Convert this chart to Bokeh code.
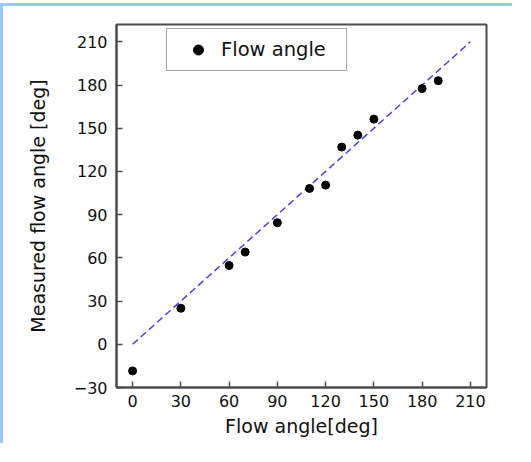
from bokeh.plotting import figure
from bokeh.models import FixedTicker, Legend, LegendItem, Range1d
from bokeh.embed import file_html
from bokeh.resources import INLINE

# data
flow_angle = [0, 30, 60, 70, 90, 110, 120, 130, 140, 150, 180, 190]
measured = [-18.5, 25, 54.7, 64, 84.4, 108.2, 110.5, 136.9, 145.2, 156.3, 177.5, 183]
ref_x = [0, 210]
ref_y = [0, 210]
x_ticks = [0, 30, 60, 90, 120, 150, 180, 210]
y_ticks = [-30, 0, 30, 60, 90, 120, 150, 180, 210]

FONT = "DejaVu Sans"
FRAME = "#4d4d4d"

p = figure(width=512, height=440, output_backend="svg", toolbar_location=None,
           x_range=Range1d(-10, 220), y_range=Range1d(-30, 222),
           min_border_left=113, min_border_right=29, min_border_top=18, min_border_bottom=59,
           background_fill_color="white", border_fill_color="white")
p.styles = {"border-top": "3px solid #9cc9f7", "border-left": "3px solid #9cc9f7",
            "margin-top": "3px"}

p.xgrid.visible = False
p.ygrid.visible = False
p.outline_line_color = FRAME
p.outline_line_width = 2

p.line(ref_x, ref_y, line_color="#4545e0", line_width=1.5, line_dash="7 4")
r = p.scatter(flow_angle, measured, size=8, color="black")

for ax in (p.xaxis[0], p.yaxis[0]):
    ax.axis_line_color = FRAME
    ax.axis_line_width = 2
    ax.major_tick_line_color = FRAME
    ax.major_tick_line_width = 1.5
    ax.major_tick_in = 6
    ax.major_tick_out = 0
    ax.minor_tick_line_color = None
    ax.major_label_text_font = FONT
    ax.major_label_text_font_size = "16px"
    ax.major_label_text_color = "#111111"
    ax.axis_label_text_font = FONT
    ax.axis_label_text_font_size = "19px"
    ax.axis_label_text_font_style = "normal"
    ax.axis_label_text_color = "#111111"

p.xaxis.ticker = FixedTicker(ticks=x_ticks)
p.yaxis.ticker = FixedTicker(ticks=y_ticks)
p.xaxis.axis_label = "Flow angle[deg]"
p.yaxis.axis_label = "Measured flow angle [deg]"
p.xaxis.major_label_standoff = 7
p.yaxis.major_label_standoff = 9
p.xaxis.axis_label_standoff = 5
p.yaxis.axis_label_standoff = 22

legend = Legend(items=[LegendItem(label="Flow angle", renderers=[r])],
                location=(50, 316), padding=8, margin=0, spacing=0,
                glyph_width=46, glyph_height=25, label_height=25, label_width=117,
                label_standoff=0, label_text_font=FONT, label_text_font_size="19.5px",
                label_text_color="#111111",
                border_line_color=FRAME, border_line_width=1.5,
                background_fill_color="white", background_fill_alpha=1)
p.add_layout(legend)

open("out.html", "w").write(file_html(p, INLINE))
